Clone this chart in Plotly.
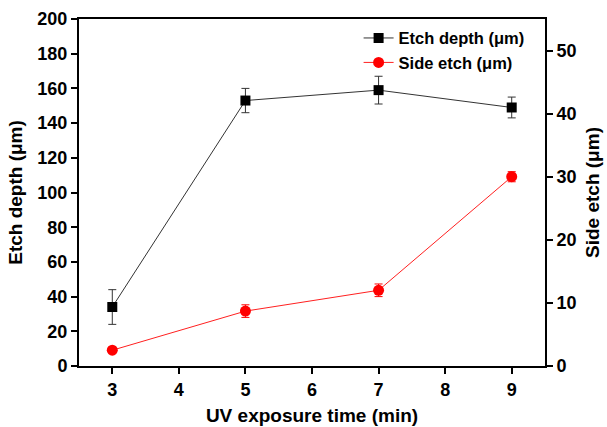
import plotly.graph_objects as go

time_min = [3, 5, 7, 9]
etch_depth = [34, 153, 159, 149]
etch_depth_err = [10, 7, 8, 6]
side_etch = [2.5, 8.7, 12.0, 30.0]
side_etch_err = [0.3, 1.0, 1.0, 0.8]

FONT = "Liberation Sans, Arial, sans-serif"

fig = go.Figure()
fig.add_trace(go.Scatter(
    x=time_min, y=etch_depth, name="<b>Etch depth (μm)</b>",
    mode="lines+markers",
    line=dict(color="#333333", width=1),
    marker=dict(symbol="square", size=10, color="black"),
    error_y=dict(type="data", array=etch_depth_err, color="#333333", thickness=1, width=4),
    yaxis="y",
))
fig.add_trace(go.Scatter(
    x=time_min, y=side_etch, name="<b>Side etch (μm)</b>",
    mode="lines+markers",
    line=dict(color="#ff2020", width=1),
    marker=dict(symbol="circle", size=11, color="#ff0000"),
    error_y=dict(type="data", array=side_etch_err, color="#ff0000", thickness=1, width=4),
    yaxis="y2",
))

axis_common = dict(
    showgrid=False, zeroline=False, showline=True, linecolor="black", linewidth=2,
    ticks="outside", ticklen=6, tickwidth=2, tickcolor="black", automargin=False,
    tickfont=dict(family=FONT, size=18, color="black", weight="bold"),
)
TITLE_FONT = dict(family=FONT, size=19, color="black")

fig.update_layout(
    width=607, height=427,
    margin=dict(l=79, r=62, t=19, b=61),
    paper_bgcolor="white", plot_bgcolor="white",
    font=dict(family=FONT, color="black"),
    showlegend=True,
    legend=dict(x=0.6, y=0.995, xanchor="left", yanchor="top",
                bgcolor="rgba(0,0,0,0)", font=dict(family=FONT, size=16.5, color="black"),
                tracegroupgap=0, itemwidth=30),
    xaxis=dict(range=[2.5, 9.5], dtick=1, tick0=3, mirror=True,
               title=dict(text="<b>UV exposure time (min)</b>", font=TITLE_FONT, standoff=10),
               **axis_common),
    yaxis=dict(range=[0, 200], dtick=20,
               title=dict(text="<b>Etch depth (μm)</b>", font=TITLE_FONT, standoff=10),
               **axis_common),
    yaxis2=dict(range=[0, 55], dtick=10, overlaying="y", side="right",
                title=dict(text="<b>Side etch (μm)</b>", font=TITLE_FONT, standoff=10),
                **axis_common),
)

fig.write_html("out.html", config={"displayModeBar": False},
               post_script="document.body.style.margin='0';")
